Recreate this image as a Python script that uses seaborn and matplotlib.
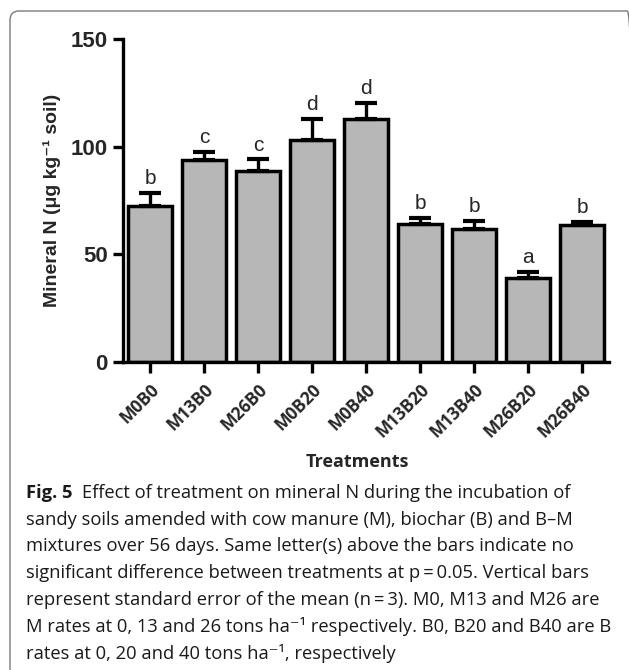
import matplotlib
matplotlib.use("Agg")
import matplotlib.pyplot as plt
from matplotlib.patches import FancyBboxPatch
import seaborn as sns
import pandas as pd
import numpy as np

# ---- data ----
treatments = ["M0B0", "M13B0", "M26B0", "M0B20", "M0B40", "M13B20", "M13B40", "M26B20", "M26B40"]
mineral_n = [72.3, 93.9, 88.6, 102.9, 113.0, 64.1, 61.9, 39.0, 63.5]
sem = [6.1, 3.6, 5.5, 10.1, 7.3, 2.8, 3.8, 2.8, 1.6]
letters = ["b", "c", "c", "d", "d", "b", "b", "a", "b"]
y_ticks = [0, 50, 100, 150]

caption_lines = [
    "Effect of treatment on mineral N during the incubation of",
    "sandy soils amended with cow manure (M), biochar (B) and B\u2013M",
    "mixtures over 56 days. Same letter(s) above the bars indicate no",
    "significant difference between treatments at p\u2009=\u20090.05. Vertical bars",
    "represent standard error of the mean (n\u2009=\u20093). M0, M13 and M26 are",
    "M rates at 0, 13 and 26 tons ha\u207b\u00b9 respectively. B0, B20 and B40 are B",
    "rates at 0, 20 and 40 tons ha\u207b\u00b9, respectively",
]

sns.set_style("ticks")
plt.rcParams["font.family"] = ["Liberation Sans", "DejaVu Sans"]

W, H = 629, 670
fig = plt.figure(figsize=(W / 100, H / 100), dpi=100)

def fx(px):
    return px / W

def fy(py):
    return 1 - py / H

# border box (right and bottom edges fall outside the picture)
box = FancyBboxPatch((fx(10), fy(700)), fx(626), (700 - 11) / H,
                     boxstyle="round,pad=0,rounding_size=0.014",
                     transform=fig.transFigure, facecolor="none",
                     edgecolor="#7a7a7a", linewidth=1.0, clip_on=False)
fig.patches.append(box)

ax = fig.add_axes([fx(123), fy(362), (609 - 123) / W, (362 - 39) / H])

df = pd.DataFrame({"Treatment": treatments, "MineralN": mineral_n})
sns.barplot(data=df, x="Treatment", y="MineralN", color="#b7b7b7", saturation=1,
            edgecolor="black", linewidth=2.5, errorbar=None, width=0.8, ax=ax, zorder=2)
xs = np.arange(len(treatments))
ax.errorbar(xs, mineral_n, yerr=[np.zeros(len(sem)), sem], fmt="none",
            ecolor="black", elinewidth=2.4, capsize=8, capthick=3, zorder=3)
for x, m, s, l in zip(xs, mineral_n, sem, letters):
    ax.text(x, m + s + 2.2, l, ha="center", va="bottom", fontsize=15,
            family=["Liberation Sans", "DejaVu Sans"])

ax.set_xlim(-0.5, len(treatments) - 0.5)
ax.set_ylim(0, 150)
ax.set_yticks(y_ticks)
ax.set_yticklabels([str(v) for v in y_ticks], fontsize=16, fontweight="bold")
ax.set_xticks(xs)
ax.set_xticklabels(treatments, rotation=45, ha="right", rotation_mode="anchor",
                   fontsize=12.5, fontweight="bold", family=["Open Sans", "DejaVu Sans"])
ax.tick_params(axis="y", length=7.5, width=2.4, pad=3.5, color="black")
ax.tick_params(axis="x", length=8, width=2.4, pad=5, color="black")
for sp in ["top", "right"]:
    ax.spines[sp].set_visible(False)
for sp in ["left", "bottom"]:
    ax.spines[sp].set_linewidth(2.4)
    ax.spines[sp].set_color("black")
ax.set_xlabel("")
ax.set_ylabel("Mineral N (\u03bcg kg\u207b\u00b9 soil)", fontsize=14, fontweight="bold",
              family=["Liberation Sans", "DejaVu Sans"])
ax.yaxis.label.set_va("center")
ax.yaxis.set_label_coords((52 - 123) / (609 - 123), 0.5)
ax.set_facecolor("white")

fig.text(fx(357), fy(462), "Treatments", ha="center", va="center", fontsize=13,
         fontweight="bold", family=["Open Sans", "DejaVu Sans"])

# caption
cap_family = ["Open Sans", "DejaVu Sans"]
renderer = fig.canvas.get_renderer()
probe = fig.text(0, 0, caption_lines[3], fontsize=12, family=cap_family)
wpx = probe.get_window_extent(renderer).width
probe.remove()
cap_fs = 12 * 560 / wpx

x0 = 26
figlab = fig.text(fx(x0), fy(493), "Fig. 5", ha="left", va="center", fontsize=cap_fs,
                  fontweight="bold", family=cap_family, color="#1a1a1a")
bw = figlab.get_window_extent(renderer).width
for i, line in enumerate(caption_lines):
    xx = x0 + bw + 10 if i == 0 else x0
    fig.text(fx(xx), fy(493 + 26.7 * i), line, ha="left", va="center",
             fontsize=cap_fs, family=cap_family, color="#1a1a1a")

fig.savefig("out.png", dpi=100, facecolor="white")
